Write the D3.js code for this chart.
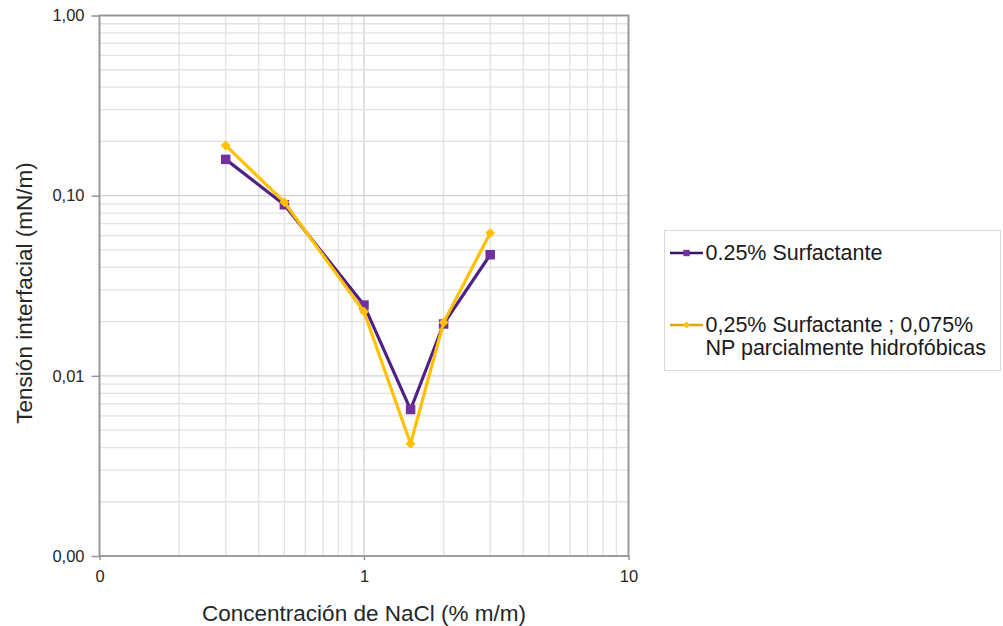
<!DOCTYPE html>
<html>
<head>
<meta charset="utf-8">
<script src="https://cdn.jsdelivr.net/npm/d3@7"></script>
<style>
  html, body { margin: 0; padding: 0; background: #ffffff; }
  svg { display: block; font-family: "Liberation Sans", Arial, sans-serif; }
</style>
</head>
<body>
<svg id="chart" width="1003" height="626"></svg>
<script>
// NaCl concentration (% m/m)
const concentracion = [0.3, 0.5, 1, 1.5, 2, 3];
// Interfacial tension (mN/m) for each formulation
const surfactante = [0.159, 0.089, 0.0247, 0.0065, 0.0194, 0.047];
const surfactanteNP = [0.19, 0.092, 0.0227, 0.0042, 0.0198, 0.062];

const seriesNames = [
  ["0.25% Surfactante"],
  ["0,25% Surfactante ; 0,075%", "NP parcialmente hidrofóbicas"]
];

const xTickValues = [0.1, 1, 10];
const xTickLabels = ["0", "1", "10"];
const yTickValues = [0.001, 0.01, 0.1, 1];
const yTickLabels = ["0,00", "0,01", "0,10", "1,00"];

const xTitle = "Concentración de NaCl (% m/m)";
const yTitle = "Tensión interfacial (mN/m)";

const plot = { left: 99.5, top: 15.5, right: 628.5, bottom: 556 };

const svg = d3.select("#chart");

const x = d3.scaleLog().domain([0.1, 10]).range([plot.left, plot.right]);
const y = d3.scaleLog().domain([0.001, 1]).range([plot.bottom, plot.top]);

const isDecade = d => Math.abs(Math.log10(d) - Math.round(Math.log10(d))) < 1e-9;

// Gridlines: every 1..9 multiple of each decade
const grid = svg.append("g");
grid.selectAll("line.gx")
  .data(x.ticks())
  .join("line")
  .attr("x1", d => x(d)).attr("x2", d => x(d))
  .attr("y1", plot.top).attr("y2", plot.bottom)
  .attr("stroke", d => isDecade(d) ? "#d2d2d2" : "#e2e2e2")
  .attr("stroke-width", 1.3);
grid.selectAll("line.gy")
  .data(y.ticks())
  .join("line")
  .attr("y1", d => y(d)).attr("y2", d => y(d))
  .attr("x1", plot.left).attr("x2", plot.right)
  .attr("stroke", d => isDecade(d) ? "#d2d2d2" : "#e2e2e2")
  .attr("stroke-width", 1.3);

// Plot frame
svg.append("rect")
  .attr("x", plot.left).attr("y", plot.top)
  .attr("width", plot.right - plot.left)
  .attr("height", plot.bottom - plot.top)
  .attr("fill", "none")
  .attr("stroke", "#959595")
  .attr("stroke-width", 1.8);

// Axes
const xAxis = svg.append("g")
  .attr("transform", `translate(0,${plot.bottom})`)
  .call(d3.axisBottom(x).tickValues(xTickValues)
    .tickFormat((d, i) => xTickLabels[i]).tickSize(4).tickPadding(10));
const yAxis = svg.append("g")
  .attr("transform", `translate(${plot.left},0)`)
  .call(d3.axisLeft(y).tickValues(yTickValues)
    .tickFormat((d, i) => yTickLabels[i]).tickSize(8).tickPadding(7));
[xAxis, yAxis].forEach(a => {
  a.select(".domain").remove();
  a.selectAll(".tick line").attr("stroke", "#959595").attr("stroke-width", 1.5);
  a.selectAll(".tick text")
    .attr("fill", "#262626")
    .style("font-size", "16.5px")
    .style("font-family", "\"Liberation Sans\", Arial, sans-serif");
});

// Axis titles
svg.append("text")
  .attr("x", (plot.left + plot.right) / 2)
  .attr("y", 621)
  .attr("text-anchor", "middle")
  .attr("fill", "#262626")
  .style("font-size", "22.5px")
  .text(xTitle);
svg.append("text")
  .attr("transform", `translate(31.5,293) rotate(-90)`)
  .attr("text-anchor", "middle")
  .attr("fill", "#262626")
  .style("font-size", "22.5px")
  .text(yTitle);

// Square-proportioned diamond marker
const squareDiamond = d3.symbolDiamond2 || {
  draw(context, size) {
    const r = Math.sqrt(size / 2);
    context.moveTo(0, -r); context.lineTo(r, 0);
    context.lineTo(0, r); context.lineTo(-r, 0); context.closePath();
  }
};

// Series
const series = [
  { values: surfactante, line: "#4e2185", marker: "#7030a0", shape: d3.symbolSquare, size: 90, legendSize: 40 },
  { values: surfactanteNP, line: "#ffc000", marker: "#ffc000", shape: squareDiamond, size: 62, legendSize: 30 }
];

const lineGen = d3.line()
  .x(d => x(d[0]))
  .y(d => y(d[1]));

series.forEach(s => {
  const pts = concentracion.map((c, i) => [c, s.values[i]]);
  svg.append("path")
    .datum(pts)
    .attr("d", lineGen)
    .attr("fill", "none")
    .attr("stroke", s.line)
    .attr("stroke-width", 3.2)
    .attr("stroke-linejoin", "round");
  svg.append("g").selectAll("path")
    .data(pts)
    .join("path")
    .attr("transform", d => `translate(${x(d[0])},${y(d[1])})`)
    .attr("d", d3.symbol().type(s.shape).size(s.size))
    .attr("fill", s.marker);
});

// Legend
const legend = svg.append("g");
legend.append("rect")
  .attr("x", 664.5).attr("y", 230.5)
  .attr("width", 336).attr("height", 140)
  .attr("fill", "#ffffff")
  .attr("stroke", "#d9d9d9")
  .attr("stroke-width", 1);

const legendRows = [
  { cy: 253, lineColor: "#3a1563", s: series[0], textY: [260] },
  { cy: 325, lineColor: "#e0a800", s: series[1], textY: [331.5, 354.5] }
];
legendRows.forEach((r, i) => {
  legend.append("line")
    .attr("x1", 670).attr("x2", 703)
    .attr("y1", r.cy).attr("y2", r.cy)
    .attr("stroke", r.lineColor).attr("stroke-width", 2.5);
  legend.append("path")
    .attr("transform", `translate(686.5,${r.cy})`)
    .attr("d", d3.symbol().type(r.s.shape).size(r.s.legendSize))
    .attr("fill", r.s.marker);
  seriesNames[i].forEach((t, j) => {
    legend.append("text")
      .attr("x", 705.5).attr("y", r.textY[j])
      .attr("fill", "#1a1a1a")
      .style("font-size", "21.5px")
      .text(t);
  });
});
</script>
</body>
</html>
